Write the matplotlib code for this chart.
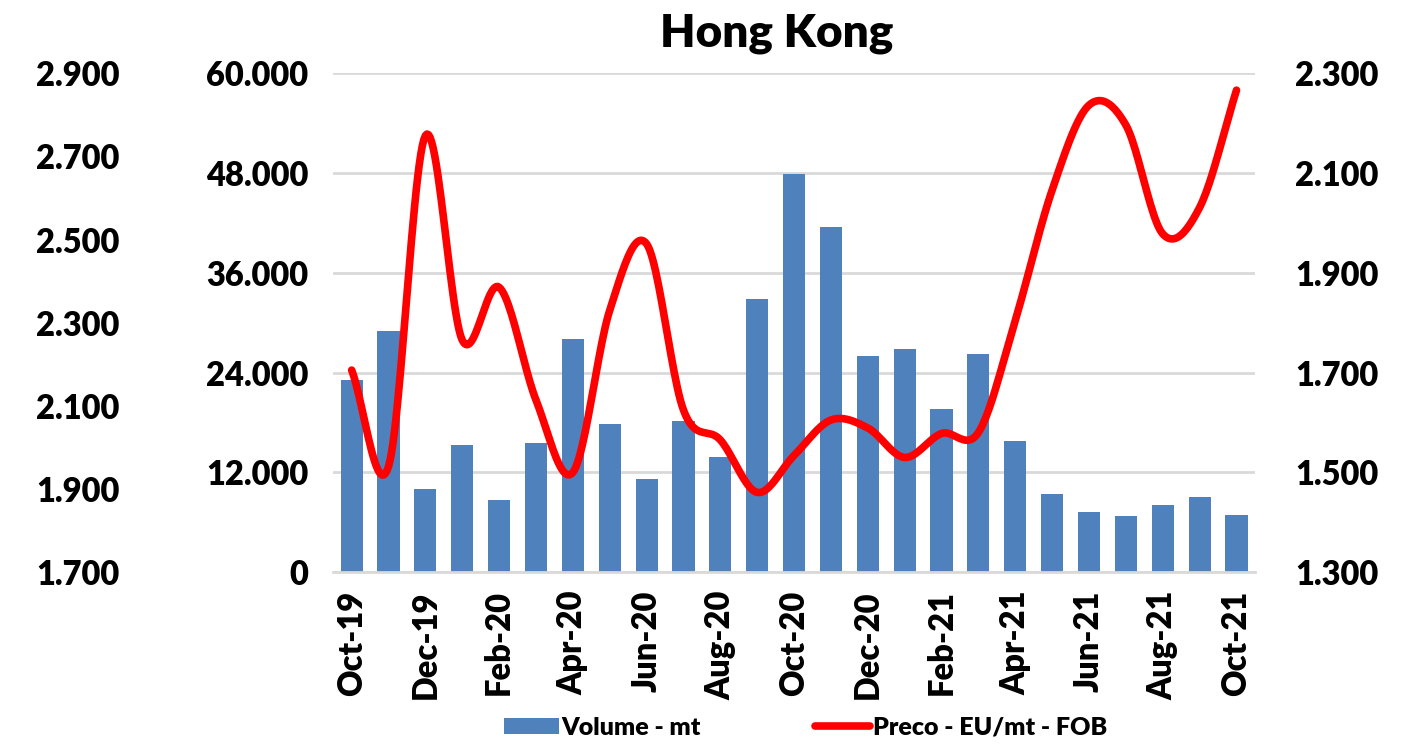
import numpy as np
import matplotlib
matplotlib.use("Agg")
import matplotlib.pyplot as plt
from matplotlib.ticker import FuncFormatter

# --- Data ---
months = ["Oct-19", "Nov-19", "Dec-19", "Jan-20", "Feb-20", "Mar-20", "Apr-20",
          "May-20", "Jun-20", "Jul-20", "Aug-20", "Sep-20", "Oct-20", "Nov-20",
          "Dec-20", "Jan-21", "Feb-21", "Mar-21", "Apr-21", "May-21", "Jun-21",
          "Jul-21", "Aug-21", "Sep-21", "Oct-21"]

volume_mt = [23100, 29000, 10000, 15300, 8700, 15500, 28100, 17800, 11200, 18200,
             13800, 32800, 47900, 41500, 26000, 26800, 19600, 26200, 15800, 9400,
             7200, 6700, 8100, 9100, 6900]

price_eur_mt = [1705, 1512, 2175, 1765, 1871, 1645, 1500, 1825, 1958, 1625,
                1565, 1460, 1534, 1605, 1589, 1530, 1578, 1580, 1805, 2066,
                2236, 2196, 1978, 2031, 2266]

# --- Style ---
font = "Lato"
weight = "heavy"
bar_color = "#4f81bd"
line_color = "#ff0000"
grid_color = "#d9d9d9"


def dot_thousands(v, pos=None):
    # 60000 -> 60.000 (European separator, as in the original sheet)
    return f"{int(round(v)):,}".replace(",", ".")


def smooth_curve(x, y, n=24):
    # Excel-like smoothed line (uniform Catmull-Rom through the points)
    x = np.asarray(x, dtype=float)
    y = np.asarray(y, dtype=float)
    px = np.concatenate([[2 * x[0] - x[1]], x, [2 * x[-1] - x[-2]]])
    py = np.concatenate([[2 * y[0] - y[1]], y, [2 * y[-1] - y[-2]]])
    t = np.linspace(0, 1, n, endpoint=False)
    xs, ys = [], []
    for i in range(1, len(px) - 2):
        for arr, out in ((px, xs), (py, ys)):
            p0, p1, p2, p3 = arr[i - 1:i + 3]
            out.extend(0.5 * (2 * p1 + (-p0 + p2) * t
                              + (2 * p0 - 5 * p1 + 4 * p2 - p3) * t ** 2
                              + (-p0 + 3 * p1 - 3 * p2 + p3) * t ** 3))
    xs.append(x[-1])
    ys.append(y[-1])
    return np.array(xs), np.array(ys)


# --- Figure ---
fig = plt.figure(figsize=(14.18, 7.47), dpi=100)
ax = fig.add_axes([0.235, 0.234, 0.650, 0.668])

x = np.arange(len(months))
ax.bar(x, volume_mt, width=0.6, color=bar_color, label="Volume - mt", zorder=2)
ax.set_xlim(-0.5, len(months) - 0.5)
ax.set_ylim(0, 60000)
ax.set_yticks(np.arange(0, 60001, 12000))
ax.yaxis.set_major_formatter(FuncFormatter(dot_thousands))
ax.grid(axis="y", color=grid_color, linewidth=2, zorder=0)
ax.set_axisbelow(True)

ax.set_xticks(x[::2])
ax.set_xticklabels(months[::2], rotation=90)

for side in ["top", "left", "right"]:
    ax.spines[side].set_visible(False)
ax.spines["bottom"].set_color(grid_color)
ax.spines["bottom"].set_linewidth(2)
ax.tick_params(axis="both", length=0)
ax.tick_params(axis="y", pad=18)
ax.tick_params(axis="x", pad=13)

# right axis: price line
ax_r = ax.twinx()
sx, sy = smooth_curve(x, price_eur_mt)
ax_r.plot(sx, sy, color=line_color, linewidth=5.5, solid_capstyle="round",
          label="Preco - EU/mt - FOB", zorder=3)
ax_r.set_ylim(1300, 2300)
ax_r.set_yticks(np.arange(1300, 2301, 200))
ax_r.yaxis.set_major_formatter(FuncFormatter(dot_thousands))
ax_r.tick_params(axis="y", length=0, pad=29)
for side in ax_r.spines:
    ax_r.spines[side].set_visible(False)

# extra far-left axis (no series on it in the original chart)
ax_l2 = ax.twinx()
ax_l2.yaxis.set_ticks_position("left")
ax_l2.spines["left"].set_position(("axes", -0.205))
for side in ax_l2.spines:
    ax_l2.spines[side].set_visible(False)
ax_l2.set_ylim(1700, 2900)
ax_l2.set_yticks(np.arange(1700, 2901, 200))
ax_l2.yaxis.set_major_formatter(FuncFormatter(dot_thousands))
ax_l2.tick_params(axis="y", length=0, pad=18)

for a in (ax, ax_r, ax_l2):
    for lab in a.get_xticklabels() + a.get_yticklabels():
        lab.set_fontfamily(font)
        lab.set_fontweight(weight)
        lab.set_fontsize(23.5)

fig.text(0.548, 0.955, "Hong Kong", ha="center", va="center",
         fontfamily=font, fontweight=weight, fontsize=33)

# --- Legend ---
handles = [ax.containers[0].patches[0], ax_r.get_lines()[0]]
labels = ["Volume - mt", "Preco - EU/mt - FOB"]
fig.legend(handles, labels, loc="center", bbox_to_anchor=(0.568, 0.026),
           ncol=2, frameon=False, handlelength=2.2, handleheight=0.6,
           handletextpad=0.1, columnspacing=4.6,
           prop={"family": font, "weight": weight, "size": 18})

plt.savefig("out.png", dpi=100)
plt.close("all")
